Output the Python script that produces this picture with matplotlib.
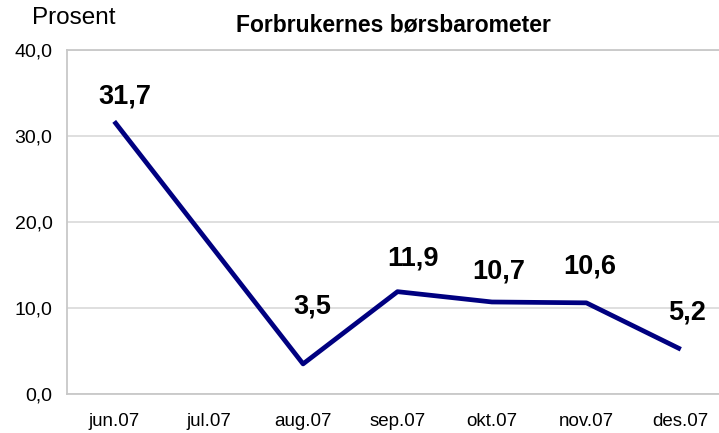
import matplotlib
matplotlib.use("Agg")
import matplotlib.pyplot as plt
import numpy as np

plt.rcParams['font.family'] = ['Liberation Sans', 'DejaVu Sans']

categories = ["jun.07", "jul.07", "aug.07", "sep.07", "okt.07", "nov.07", "des.07"]
values = [31.7, None, 3.5, 11.9, 10.7, 10.6, 5.2]
label_texts = ["31,7", None, "3,5", "11,9", "10,7", "10,6", "5,2"]
# label offsets in pixels (dx, dy) relative to the point
label_offsets = [(11, 25), None, (9, 57), (16, 33), (7, 30), (3, 36), (6, 37)]
yticks = [0, 10, 20, 30, 40]
ytick_labels = ["0,0", "10,0", "20,0", "30,0", "40,0"]

W, H = 719, 433
fig = plt.figure(figsize=(W / 100, H / 100), dpi=100)
ax = fig.add_axes([67 / W, (H - 394) / H, 661 / W, 344 / H])

x_all = np.arange(len(categories))
xs = [x for x, v in zip(x_all, values) if v is not None]
ys = [v for v in values if v is not None]

ax.plot(xs, ys, color="#000080", linewidth=3.4, solid_capstyle="butt", zorder=3)

for x, v, t, off in zip(x_all, values, label_texts, label_offsets):
    if v is None:
        continue
    ax.annotate(t, (x, v), xytext=(off[0] * 0.72, off[1] * 0.72),
                textcoords="offset points", ha="center", va="center",
                fontsize=19.5, fontweight="bold", color="black", zorder=4)

ax.set_xlim(-0.5, len(categories) - 0.5)
ax.set_ylim(0, 40)
ax.set_xticks(x_all)
ax.set_xticklabels(categories, fontsize=13.5)
ax.set_yticks(yticks)
ax.set_yticklabels(ytick_labels, fontsize=14)
ax.tick_params(axis="both", length=0)
ax.tick_params(axis="x", pad=14)
ax.tick_params(axis="y", pad=10.5)

ax.yaxis.grid(True, color="#d9d9d9", linewidth=1.2)
ax.set_axisbelow(True)
for side in ["left", "bottom", "top", "right"]:
    ax.spines[side].set_color("#c8c8c8")
    ax.spines[side].set_linewidth(1.3)

fig.text(74 / W, 1 - 18 / H, "Prosent", fontsize=17.5, ha="center", va="center")
fig.text(393 / W, 1 - 25 / H, "Forbrukernes børsbarometer", fontsize=16.5,
         fontweight="bold", ha="center", va="center")

fig.savefig("out.png", dpi=100)
